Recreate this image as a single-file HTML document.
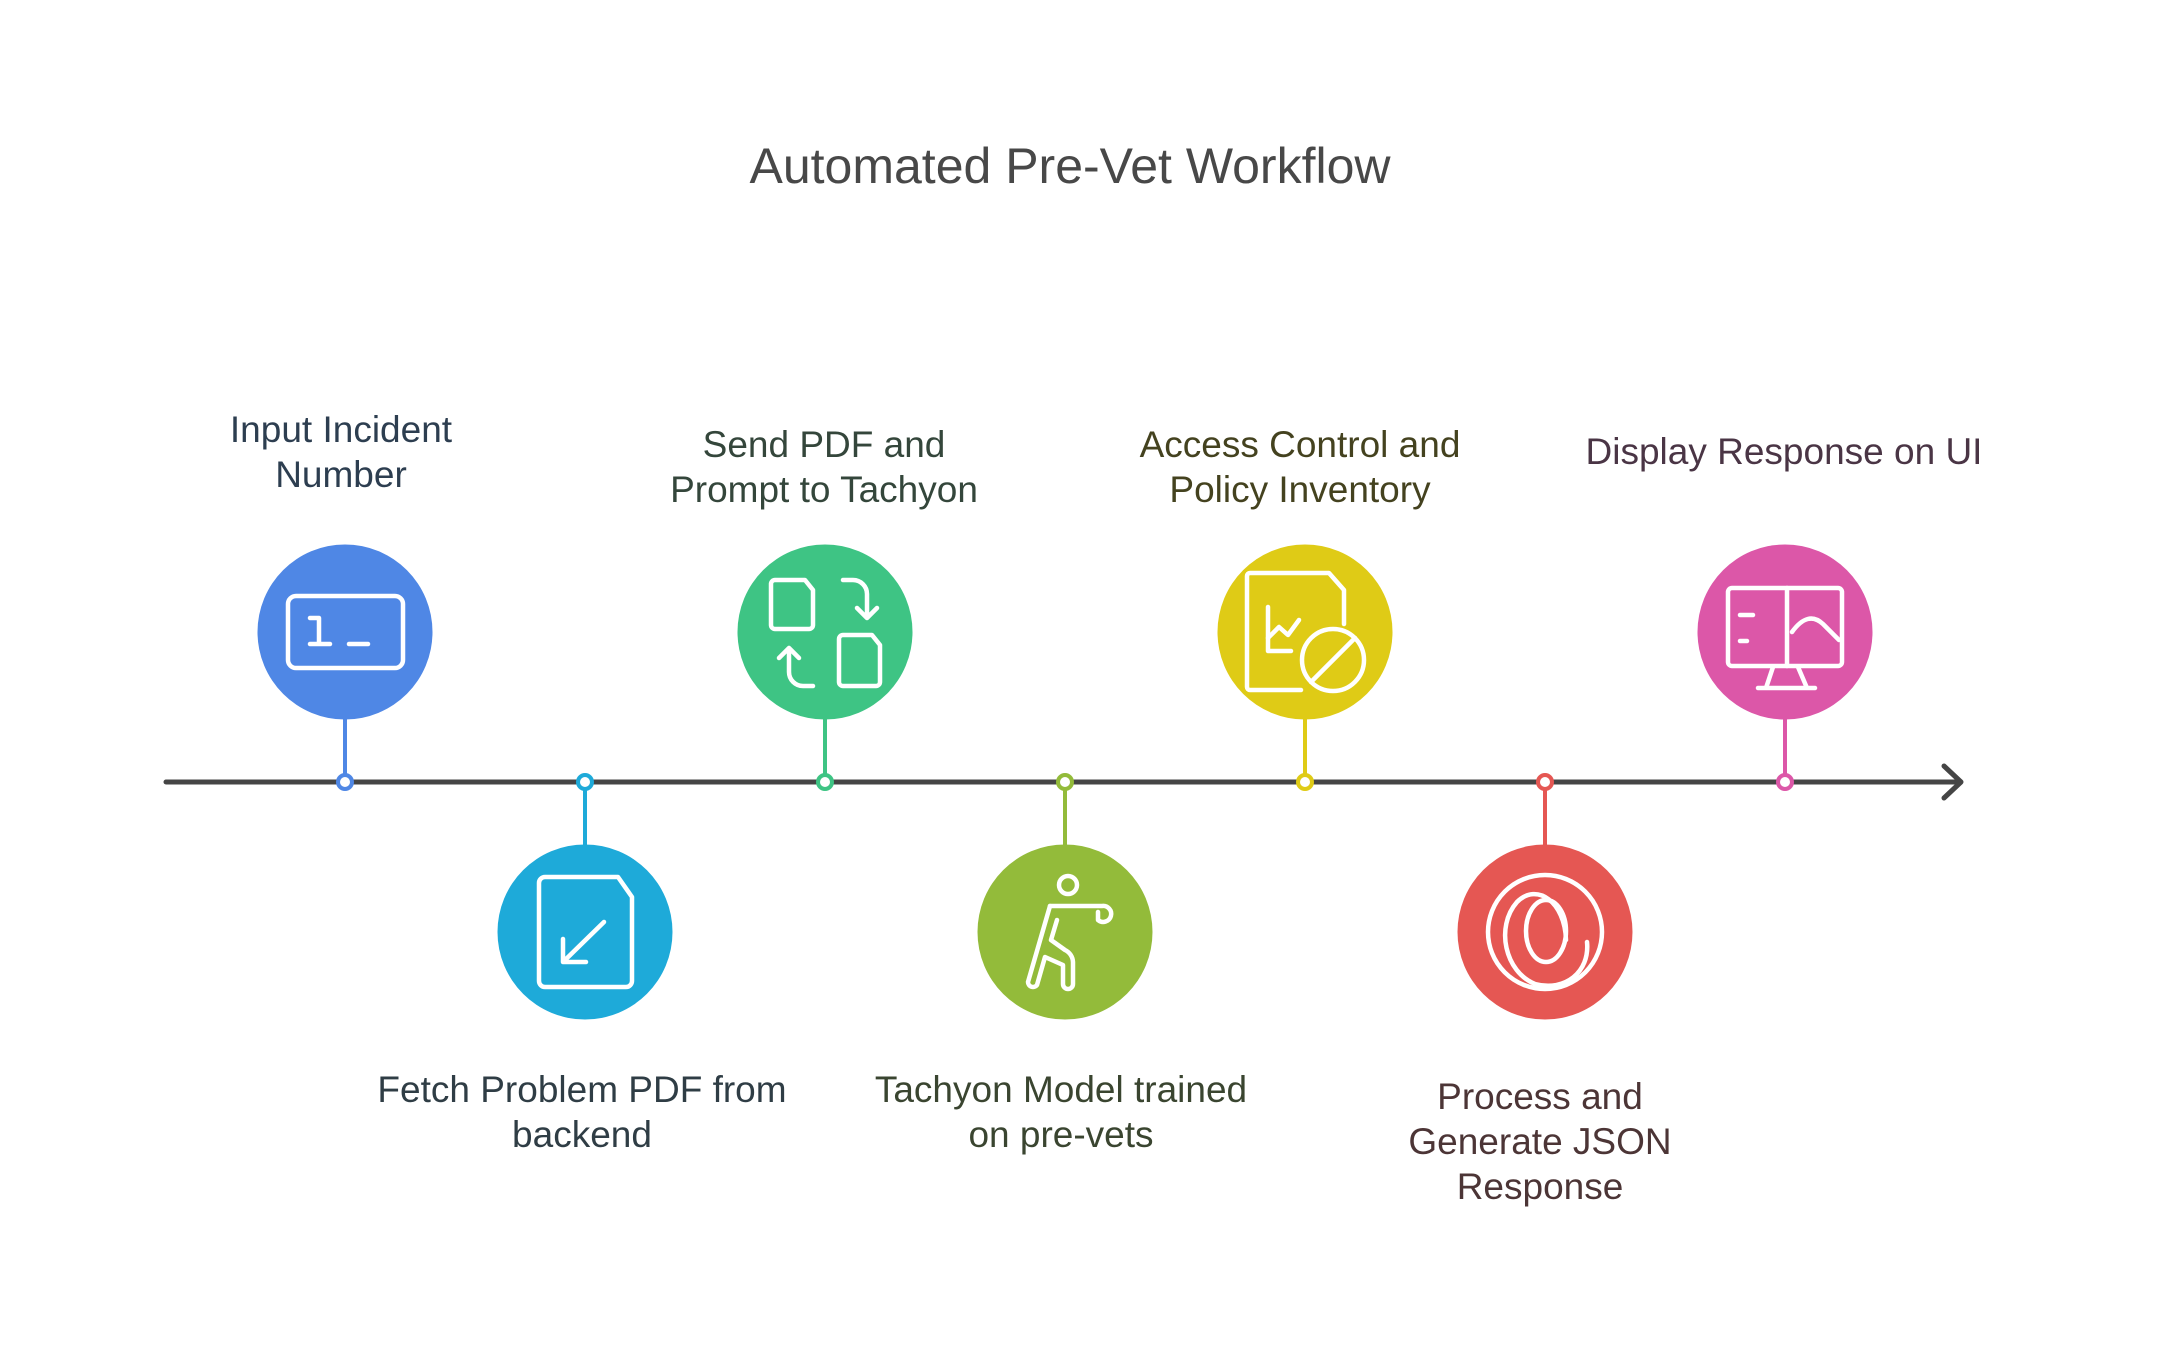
<!DOCTYPE html>
<html><head><meta charset="utf-8"><style>
html,body{margin:0;padding:0;background:#fff;}
svg{display:block;}
text{font-family:"Liberation Sans",sans-serif;}
</style></head><body>
<svg width="2165" height="1355" viewBox="0 0 2165 1355" xmlns="http://www.w3.org/2000/svg">
<rect width="2165" height="1355" fill="#fff"/>
<text x="1070" y="166" font-size="50" fill="#484848" text-anchor="middle" dominant-baseline="central">Automated Pre-Vet Workflow</text>

<!-- axis -->
<line x1="166" y1="782" x2="1960" y2="782" stroke="#454545" stroke-width="5" stroke-linecap="round"/>
<polyline points="1944,766 1961,782 1944,798" fill="none" stroke="#454545" stroke-width="5" stroke-linecap="round" stroke-linejoin="round"/>

<!-- connectors -->
<g stroke-width="4">
<line x1="345" y1="715" x2="345" y2="782" stroke="#4f87e5"/>
<line x1="585" y1="782" x2="585" y2="850" stroke="#1eaad9"/>
<line x1="825" y1="715" x2="825" y2="782" stroke="#3ec484"/>
<line x1="1065" y1="782" x2="1065" y2="850" stroke="#93bb3a"/>
<line x1="1305" y1="715" x2="1305" y2="782" stroke="#dfcb16"/>
<line x1="1545" y1="782" x2="1545" y2="850" stroke="#e55753"/>
<line x1="1785" y1="715" x2="1785" y2="782" stroke="#dc57a8"/>
</g>
<g fill="#fff" stroke-width="4">
<circle cx="345" cy="782" r="7" stroke="#4f87e5"/>
<circle cx="585" cy="782" r="7" stroke="#1eaad9"/>
<circle cx="825" cy="782" r="7" stroke="#3ec484"/>
<circle cx="1065" cy="782" r="7" stroke="#93bb3a"/>
<circle cx="1305" cy="782" r="7" stroke="#dfcb16"/>
<circle cx="1545" cy="782" r="7" stroke="#e55753"/>
<circle cx="1785" cy="782" r="7" stroke="#dc57a8"/>
</g>

<!-- circles -->
<circle cx="345" cy="632" r="87.5" fill="#4f87e5"/>
<circle cx="585" cy="932" r="87.5" fill="#1eaad9"/>
<circle cx="825" cy="632" r="87.5" fill="#3ec484"/>
<circle cx="1065" cy="932" r="87.5" fill="#93bb3a"/>
<circle cx="1305" cy="632" r="87.5" fill="#dfcb16"/>
<circle cx="1545" cy="932" r="87.5" fill="#e55753"/>
<circle cx="1785" cy="632" r="87.5" fill="#dc57a8"/>

<g fill="none" stroke="#fff" stroke-width="4.5" stroke-linecap="round" stroke-linejoin="round">
<g transform="translate(345,632)">
<rect x="-57" y="-36" width="115" height="72" rx="8"/>
<path d="M-35,-14 H-26 V12 M-35,12 H-15"/>
<path d="M4,12 H23"/>
</g>
<g transform="translate(585,932)">
<path d="M-40,-55 H33 L47,-35 V49 a6 6 0 0 1 -6 6 H-40 a6 6 0 0 1 -6 -6 V-49 a6 6 0 0 1 6 -6 Z"/>
<path d="M19,-10 L-22,30 M-22,7 V30 H1"/>
</g>
<g transform="translate(825,632)">
<path d="M-50,-52 H-20 L-12,-42 V-7 a4 4 0 0 1 -4 4 H-50 a4 4 0 0 1 -4 -4 V-48 a4 4 0 0 1 4 -4 Z"/>
<path d="M18,3 H47 L55,13 V50 a4 4 0 0 1 -4 4 H18 a4 4 0 0 1 -4 -4 V7 a4 4 0 0 1 4 -4 Z"/>
<path d="M18,-52 H28 a14 14 0 0 1 14 14 V-14 M32,-24 L42,-14 L52,-24"/>
<path d="M-12,54 H-22 a14 14 0 0 1 -14 -14 V16 M-46,26 L-36,16 L-26,26"/>
</g>
<g transform="translate(1065,932)">
<circle cx="3" cy="-47" r="9"/>
<path d="M-15,-26 H37 a8 8 0 1 1 -4 14 V-20"/>
<path d="M-15,-26 L-37,50 a5 5 0 0 0 9 3 L-20,25 L-2,33 L-2,52 a5 5 0 0 0 10 0 V30 a14 14 0 0 0 -8 -12 L-14,8 L-8,-12"/>
</g>
<g transform="translate(1305,632)">
<path d="M39,-8 V-42 L24,-59 H-55 a3 3 0 0 0 -3 3 V55 a3 3 0 0 0 3 3 H-4"/>
<path d="M-37,-25 V19 H-14"/>
<path d="M-37,6 L-26,-5 L-17,3 L-6,-12"/>
<circle cx="28" cy="28" r="31"/>
<path d="M50,6 L6,50"/>
</g>
<g transform="translate(1545,932)">
<circle cx="0" cy="0" r="57"/>
<ellipse cx="1" cy="-1" rx="20" ry="31"/>
<path d="M21,8 C20,-30 -8,-50 -28,-30 C-50,-5 -40,40 -10,52 C20,60 45,40 42,10"/>
</g>
<g transform="translate(1785,632)">
<rect x="-57" y="-44" width="114" height="78" rx="4"/>
<path d="M2,-44 V34"/>
<path d="M-45,-17 H-32 M-45,9 H-38"/>
<path d="M7,0 Q23,-22 38,-8 L54,8"/>
<path d="M-12,35 L-19,56 M13,35 L22,56 M-27,56 H30"/>
</g>
</g>

<g font-size="37" text-anchor="middle" dominant-baseline="central">
<text fill="#2d3e50"><tspan x="341" y="429">Input Incident</tspan><tspan x="341" y="474">Number</tspan></text>
<text fill="#2f3d45"><tspan x="582" y="1089">Fetch Problem PDF from</tspan><tspan x="582" y="1134">backend</tspan></text>
<text fill="#34463b"><tspan x="824" y="444">Send PDF and</tspan><tspan x="824" y="489">Prompt to Tachyon</tspan></text>
<text fill="#3a4530"><tspan x="1061" y="1089">Tachyon Model trained</tspan><tspan x="1061" y="1134">on pre-vets</tspan></text>
<text fill="#44421f"><tspan x="1300" y="444">Access Control and</tspan><tspan x="1300" y="489">Policy Inventory</tspan></text>
<text fill="#4c3536"><tspan x="1540" y="1096">Process and</tspan><tspan x="1540" y="1141">Generate JSON</tspan><tspan x="1540" y="1186">Response</tspan></text>
<text fill="#4a3545"><tspan x="1784" y="451">Display Response on UI</tspan></text>
</g>
</svg>
</body></html>
